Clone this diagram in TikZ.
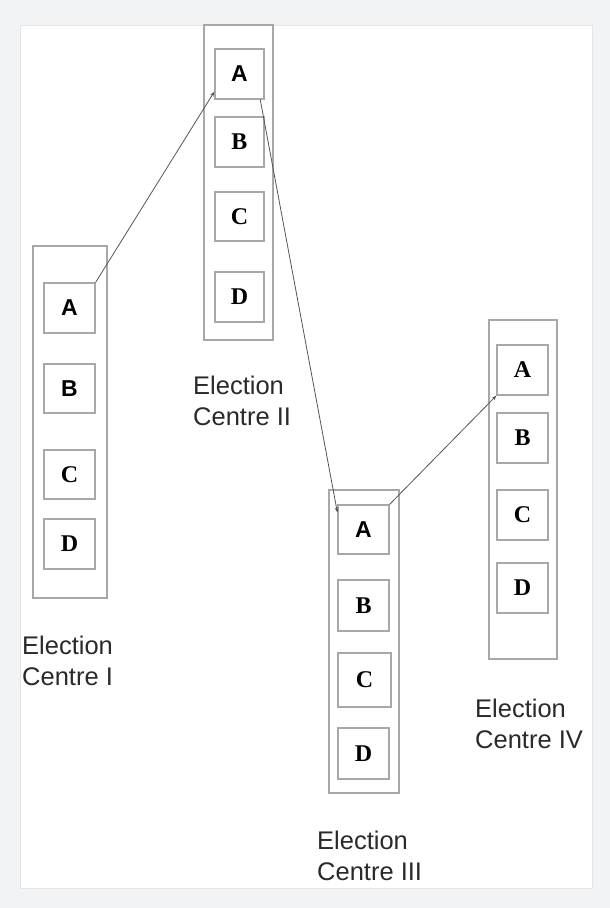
\documentclass[tikz,border=0pt]{standalone}
\usepackage{fontspec}
\setmainfont{Liberation Serif}
\newfontfamily\lsans{Liberation Sans}
\usetikzlibrary{arrows.meta}
\definecolor{bggray}{HTML}{F1F3F4}
\definecolor{panelline}{HTML}{E3E5E8}
\definecolor{boxline}{HTML}{A8A8A8}
\definecolor{arrowcol}{HTML}{555555}
\definecolor{labelcol}{HTML}{2A2A2A}
\begin{document}
\begin{tikzpicture}[x=1pt,y=-1pt,
  obox/.style={draw=boxline, line width=1.2pt, inner sep=0pt, fill=none},
  ibox/.style={draw=boxline, line width=1.2pt, inner sep=0pt, minimum width=51pt, minimum height=50pt},
  sansl/.style={font=\lsans\bfseries\fontsize{23}{23}\selectfont},
  serifl/.style={font=\bfseries\fontsize{24}{24}\selectfont},
  clabel/.style={font=\lsans\fontsize{25.5}{30.5}\selectfont, text=labelcol, align=left, anchor=north west, inner sep=0pt},
  link/.style={draw=arrowcol, line width=0.8pt, -{Stealth[length=5pt,width=3.5pt]}}]
\fill[bggray] (0,0) rectangle (610,908);
\filldraw[fill=white, draw=panelline, line width=0.8pt] (20,25) rectangle (592,888);
\useasboundingbox (0,0) rectangle (610,908);

% Centre I
\node[obox, minimum width=74pt, minimum height=352pt] (c1) at (70,422) {};
\node[ibox, sansl] (IA) at (69.5,308) {A};
\node[ibox, sansl, minimum height=49pt] (IB) at (69.5,388.5) {B};
\node[ibox, serifl, minimum height=49pt] (IC) at (69.5,474.5) {C};
\node[ibox, serifl] (ID) at (69.5,544) {D};
\node[clabel] (l1) at (22,636) {Election\\Centre I};

% Centre II
\node[obox, minimum width=69pt, minimum height=315pt] (c2) at (238.5,182.5) {};
\node[ibox, sansl, minimum width=49pt] (IIA) at (239.5,74) {A};
\node[ibox, serifl, minimum width=49pt] (IIB) at (239.5,142) {B};
\node[ibox, serifl, minimum width=49pt, minimum height=49pt] (IIC) at (239.5,216.5) {C};
\node[ibox, serifl, minimum width=49pt] (IID) at (239.5,297) {D};
\node[clabel] (l2) at (193,376) {Election\\Centre II};

% Centre III
\node[obox, minimum width=70pt, minimum height=303pt] (c3) at (364,641.5) {};
\node[ibox, sansl, minimum height=49pt] (IIIA) at (363.5,529.5) {A};
\node[ibox, serifl, minimum height=51pt] (IIIB) at (363.5,605.5) {B};
\node[ibox, serifl, minimum width=53pt, minimum height=54pt] (IIIC) at (364.5,680) {C};
\node[ibox, serifl, minimum height=51pt] (IIID) at (363.5,753.5) {D};
\node[clabel] (l3) at (317,831) {Election\\Centre III};

% Centre IV
\node[obox, minimum width=68pt, minimum height=339pt] (c4) at (523,489.5) {};
\node[ibox, serifl] (IVA) at (522.5,370) {A};
\node[ibox, serifl] (IVB) at (522.5,438) {B};
\node[ibox, serifl] (IVC) at (522.5,515) {C};
\node[ibox, serifl] (IVD) at (522.5,588) {D};
\node[clabel] (l4) at (475,699) {Election\\Centre IV};

% Links
\draw[link] (IA.north east) -- (IIA.215);
\draw[link] (IIA.-51) -- (IIIA.147);
\draw[link] (IIIA.north east) -- (IVA.south west);
\end{tikzpicture}
\end{document}
